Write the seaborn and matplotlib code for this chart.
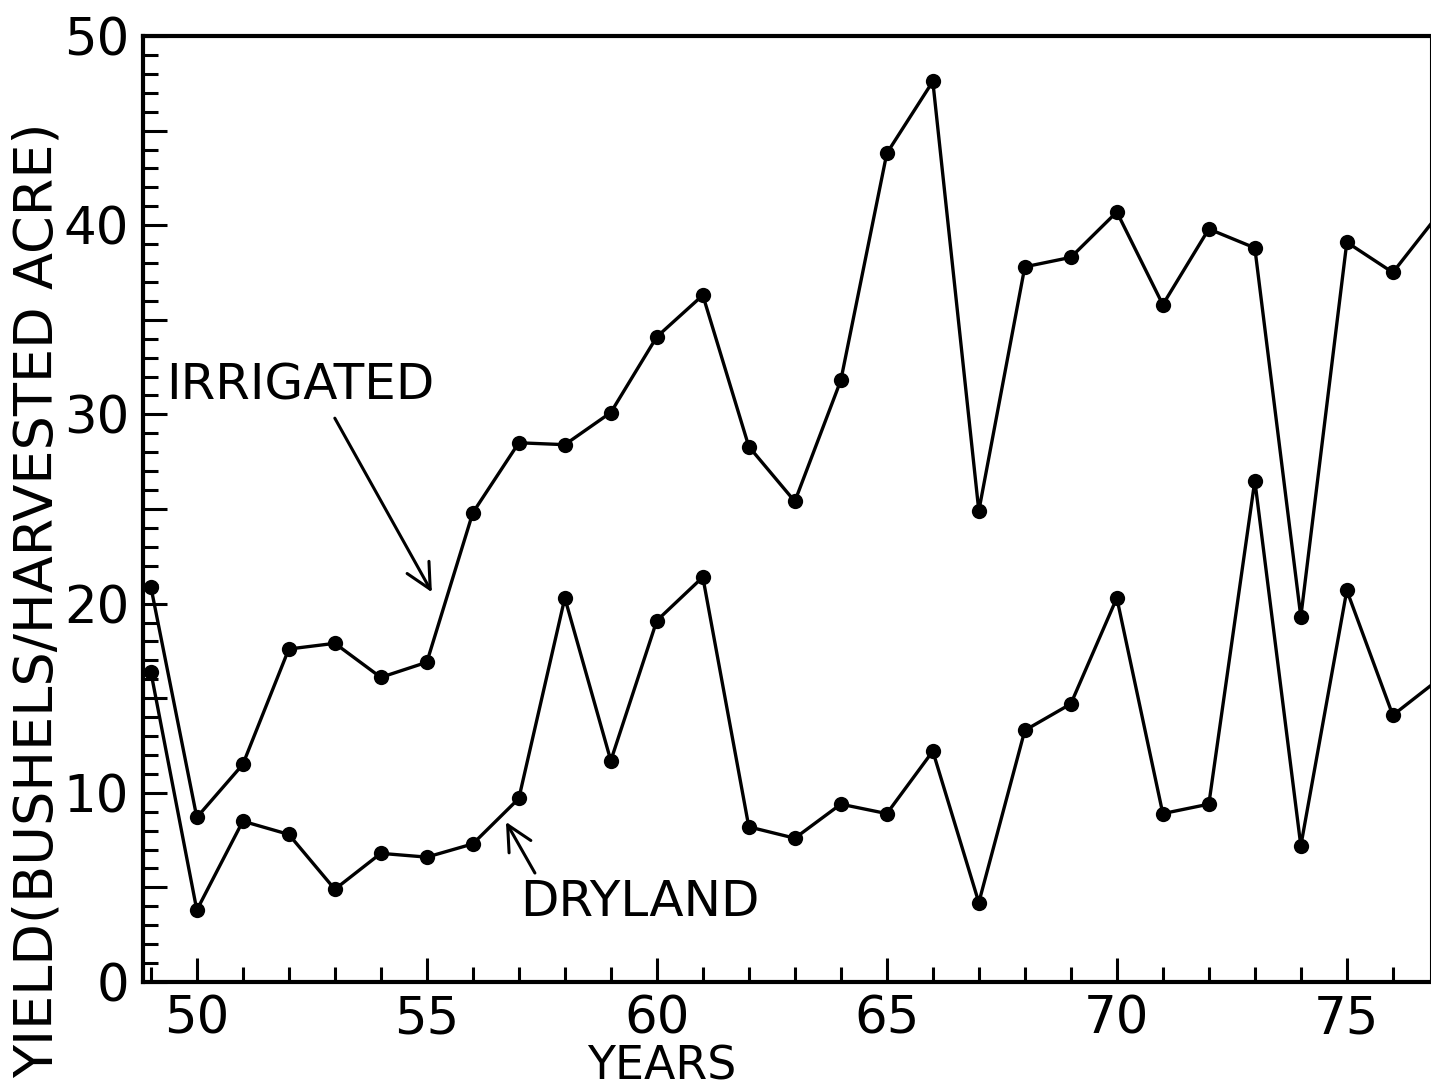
import matplotlib
matplotlib.use("Agg")
import matplotlib.pyplot as plt
from matplotlib.ticker import MultipleLocator, FuncFormatter
import numpy as np
import pandas as pd
import seaborn as sns

# Crop years (19xx) and yields in bushels per harvested acre
years = list(range(49, 78))
irrigated = [20.9, 8.7, 11.5, 17.6, 17.9, 16.1, 16.9, 24.8, 28.5, 28.4,
             30.1, 34.1, 36.3, 28.3, 25.4, 31.8, 43.8, 47.6, 24.9, 37.8,
             38.3, 40.7, 35.8, 39.8, 38.8, 19.3, 39.1, 37.5, 40.6]
dryland = [16.4, 3.8, 8.5, 7.8, 4.9, 6.8, 6.6, 7.3, 9.7, 20.3,
           11.7, 19.1, 21.4, 8.2, 7.6, 9.4, 8.9, 12.2, 4.2, 13.3,
           14.7, 20.3, 8.9, 9.4, 26.5, 7.2, 20.7, 14.1, 16.0]

x_label = "YEARS"
y_label = "YIELD(BUSHELS/HARVESTED ACRE)"

df = pd.DataFrame({
    "year": years * 2,
    "yield": irrigated + dryland,
    "series": ["IRRIGATED"] * len(years) + ["DRYLAND"] * len(years),
})

sns.set_theme(style="ticks")
plt.rcParams["font.family"] = ["DejaVu Sans"]

fig = plt.figure(figsize=(14.31, 10.89), dpi=100)
ax = fig.add_axes([143 / 1431, 107 / 1089, 1 - 143 / 1431, 946 / 1089])

sns.lineplot(data=df, x="year", y="yield", hue="series",
             palette={"IRRIGATED": "black", "DRYLAND": "black"},
             marker="o", markersize=11, markeredgewidth=0,
             linewidth=2.4, legend=False, ax=ax, errorbar=None)

ax.set_xlim(48.83, 76.83)
ax.set_ylim(0, 50)

ax.xaxis.set_major_locator(MultipleLocator(5))
ax.xaxis.set_minor_locator(MultipleLocator(1))
ax.yaxis.set_major_locator(MultipleLocator(5))
ax.yaxis.set_minor_locator(MultipleLocator(1))
ax.yaxis.set_major_formatter(
    FuncFormatter(lambda v, p: f"{int(round(v))}" if round(v) % 10 == 0 else ""))
ax.xaxis.set_major_formatter(FuncFormatter(lambda v, p: f"{int(round(v))}"))

ax.tick_params(axis="both", which="major", direction="in", length=17,
               width=2.2, labelsize=37, color="black", labelcolor="black")
ax.tick_params(axis="both", which="minor", direction="in", length=11,
               width=2.2, color="black")
ax.tick_params(axis="x", which="major", pad=9)
ax.tick_params(axis="y", which="major", pad=10)

for side in ["left", "bottom", "top"]:
    ax.spines[side].set_linewidth(3)
    ax.spines[side].set_color("black")
ax.spines["right"].set_linewidth(1.5)
ax.spines["right"].set_color("black")

ax.set_xlabel(x_label, fontsize=33, color="black")
ax.set_ylabel(y_label, fontsize=39, color="black")
ax.xaxis.set_label_coords(0.403, -0.066)
ax.yaxis.set_label_coords(-0.062, 0.404)

# Series labels with pointer arrows
arrow = dict(arrowstyle="->,head_length=0.9,head_width=0.45",
             color="black", lw=2.2, mutation_scale=20, shrinkA=0, shrinkB=0)
ax.text(52.26, 31.55, "IRRIGATED", fontsize=36, ha="center", va="center",
        color="black")
ax.annotate("", xy=(55.11, 20.6), xytext=(53.0, 29.8), arrowprops=arrow)
ax.text(59.63, 4.23, "DRYLAND", fontsize=36, ha="center", va="center",
        color="black")
ax.annotate("", xy=(56.72, 8.46), xytext=(57.35, 5.76), arrowprops=arrow)

fig.savefig("out.png", dpi=100, facecolor="white")
